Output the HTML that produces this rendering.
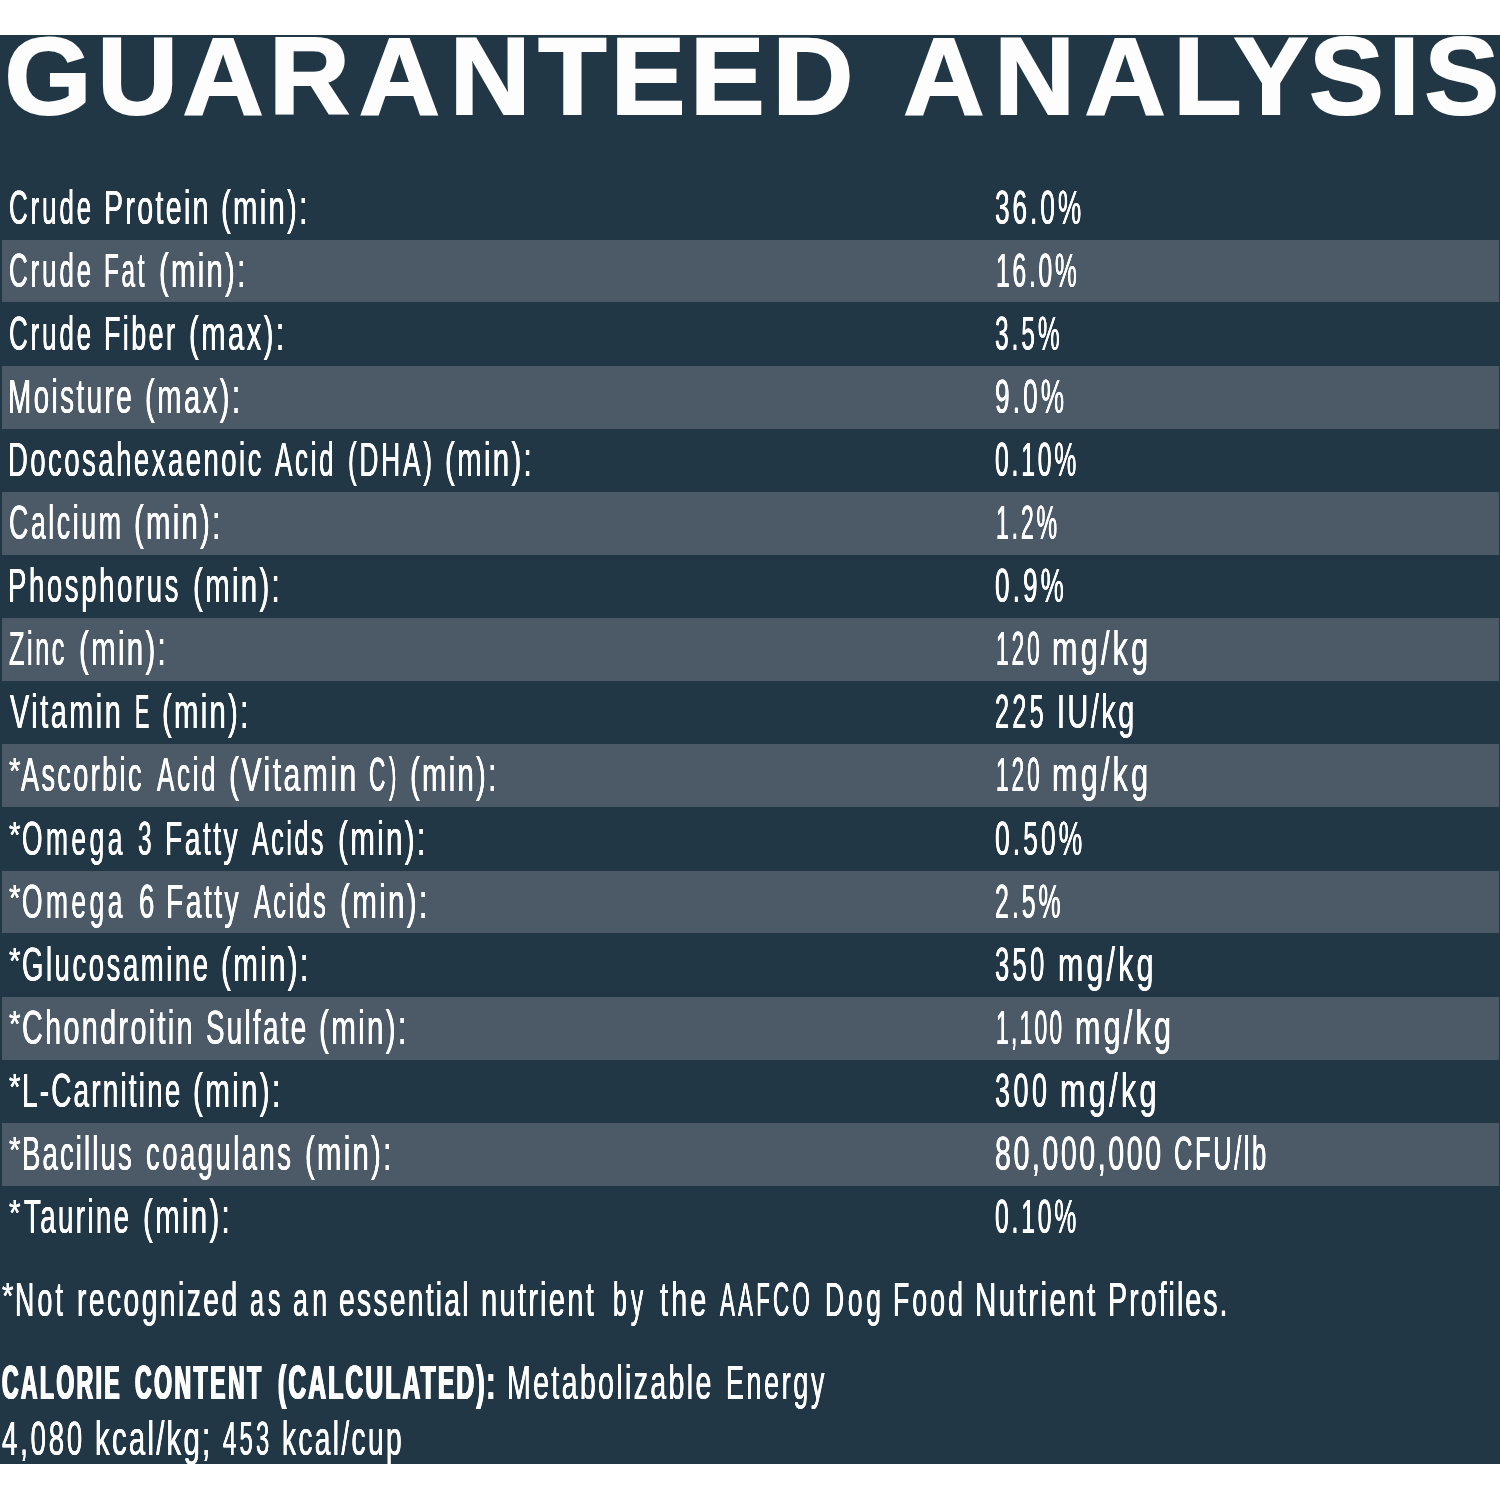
<!DOCTYPE html>
<html lang="en"><head><meta charset="utf-8"><title>Guaranteed Analysis</title>
<style>
html,body{margin:0;padding:0;background:#fff}
body{width:1500px;height:1500px;position:relative;overflow:hidden;font-family:"Liberation Sans",sans-serif;color:#fdfdfd}
.panel{position:absolute;left:0;top:35px;width:1500px;height:1428.7px;background:#223745}
.stripe{position:absolute;left:2px;width:1497.3px;height:62.9px;background:#4c5a68}
.r{position:absolute;left:0;margin:0;font-size:0;line-height:0;white-space:nowrap;font-weight:400}
.r span{display:inline-block;font-size:47.6px;line-height:47.6px;vertical-align:baseline;transform-origin:0 50%;white-space:pre;text-shadow:0.35px 0 0 #fdfdfd,-0.35px 0 0 #fdfdfd}
.r b{font-weight:700}
.r b span{text-shadow:0.65px 0 0 #fdfdfd,-0.65px 0 0 #fdfdfd,1.3px 0 0 #fdfdfd,-1.3px 0 0 #fdfdfd}
svg{position:absolute;left:0;top:0}
</style></head><body>
<div class="panel"></div>
<div class="stripe" style="top:239.6px"></div>
<div class="stripe" style="top:365.8px"></div>
<div class="stripe" style="top:492.0px"></div>
<div class="stripe" style="top:618.2px"></div>
<div class="stripe" style="top:744.4px"></div>
<div class="stripe" style="top:870.6px"></div>
<div class="stripe" style="top:996.8px"></div>
<div class="stripe" style="top:1123.0px"></div>
<svg width="1500" height="160" viewBox="0 0 1500 160" role="img" aria-label="GUARANTEED ANALYSIS"><text transform="scale(1.0289,1)" x="4.4 94.6 177.7 261.5 348.8 437.2 523.2 593.7 670.7 750.7 844.4 878.2 966.3 1054.3 1140.3 1199.0 1272.6 1349.5 1384.4" y="114.4" font-family="Liberation Sans, sans-serif" font-weight="700" font-size="108.7" fill="#fdfdfd" stroke="#fdfdfd" stroke-width="2.0" stroke-linejoin="miter">GUARANTEED ANALYSIS</text></svg>
<div class="r" style="top:183.71px"><span style="margin-left:8.62px;width:80.00px;transform:scaleX(0.5473);letter-spacing:5.12px">Crude</span> <span style="margin-left:15.54px;width:100.80px;transform:scaleX(0.5991);letter-spacing:3.93px">Protein</span> <span style="margin-left:16.41px;width:82.20px;transform:scaleX(0.6150);letter-spacing:3.74px">(min):</span> <span style="margin-left:691.56px;width:84.70px;transform:scaleX(0.5510);letter-spacing:5.38px">36.0%</span></div>
<div class="r" style="top:246.79px"><span style="margin-left:8.62px;width:80.00px;transform:scaleX(0.5473);letter-spacing:5.12px">Crude</span> <span style="margin-left:15.84px;width:38.80px;transform:scaleX(0.5098);letter-spacing:5.33px">Fat</span> <span style="margin-left:16.10px;width:82.20px;transform:scaleX(0.6150);letter-spacing:3.74px">(min):</span> <span style="margin-left:754.10px;width:78.50px;transform:scaleX(0.5175);letter-spacing:5.31px">16.0%</span></div>
<div class="r" style="top:309.87px"><span style="margin-left:8.62px;width:80.00px;transform:scaleX(0.5473);letter-spacing:5.12px">Crude</span> <span style="margin-left:15.66px;width:68.80px;transform:scaleX(0.5651);letter-spacing:4.26px">Fiber</span> <span style="margin-left:15.50px;width:91.00px;transform:scaleX(0.6105);letter-spacing:4.17px">(max):</span> <span style="margin-left:715.60px;width:63.30px;transform:scaleX(0.5150);letter-spacing:5.74px">3.5%</span></div>
<div class="r" style="top:372.95px"><span style="margin-left:8.21px;width:120.80px;transform:scaleX(0.5854);letter-spacing:4.13px">Moisture</span> <span style="margin-left:16.37px;width:91.00px;transform:scaleX(0.6105);letter-spacing:4.17px">(max):</span> <span style="margin-left:758.47px;width:67.30px;transform:scaleX(0.5502);letter-spacing:5.71px">9.0%</span></div>
<div class="r" style="top:436.03px"><span style="margin-left:8.24px;width:250.80px;transform:scaleX(0.5768);letter-spacing:4.35px">Docosahexaenoic</span> <span style="margin-left:16.02px;width:57.20px;transform:scaleX(0.5469);letter-spacing:4.88px">Acid</span> <span style="margin-left:15.29px;width:81.20px;transform:scaleX(0.5501);letter-spacing:5.17px">(DHA)</span> <span style="margin-left:15.82px;width:82.60px;transform:scaleX(0.6180);letter-spacing:3.74px">(min):</span> <span style="margin-left:468.01px;width:79.90px;transform:scaleX(0.5198);letter-spacing:5.38px">0.10%</span></div>
<div class="r" style="top:499.11px"><span style="margin-left:8.59px;width:109.20px;transform:scaleX(0.5625);letter-spacing:4.53px">Calcium</span> <span style="margin-left:16.38px;width:82.20px;transform:scaleX(0.6150);letter-spacing:3.74px">(min):</span> <span style="margin-left:779.39px;width:58.90px;transform:scaleX(0.4873);letter-spacing:5.64px">1.2%</span></div>
<div class="r" style="top:562.19px"><span style="margin-left:8.23px;width:167.60px;transform:scaleX(0.5784);letter-spacing:4.51px">Phosphorus</span> <span style="margin-left:16.73px;width:82.60px;transform:scaleX(0.6180);letter-spacing:3.74px">(min):</span> <span style="margin-left:719.97px;width:67.30px;transform:scaleX(0.5476);letter-spacing:5.74px">0.9%</span></div>
<div class="r" style="top:625.27px"><span style="margin-left:9.19px;width:54.40px;transform:scaleX(0.5319);letter-spacing:4.77px">Zinc</span> <span style="margin-left:14.97px;width:82.60px;transform:scaleX(0.6180);letter-spacing:3.74px">(min):</span> <span style="margin-left:834.63px;width:41.50px;transform:scaleX(0.4778);letter-spacing:6.08px">120</span> <span style="margin-left:15.14px;width:92.50px;transform:scaleX(0.6418);letter-spacing:5.04px">mg/kg</span></div>
<div class="r" style="top:688.35px"><span style="margin-left:9.86px;width:109.20px;transform:scaleX(0.6051);letter-spacing:4.21px">Vitamin</span> <span style="margin-left:15.61px;width:12.00px;transform:scaleX(0.4494)">E</span> <span style="margin-left:15.50px;width:82.20px;transform:scaleX(0.6150);letter-spacing:3.74px">(min):</span> <span style="margin-left:750.52px;width:46.90px;transform:scaleX(0.5311);letter-spacing:6.18px">225</span> <span style="margin-left:14.76px;width:73.30px;transform:scaleX(0.6035);letter-spacing:4.25px">IU/kg</span></div>
<div class="r" style="top:751.43px"><span style="margin-left:8.75px;width:11.00px;transform:scale(0.6215,0.7881);transform-origin:0 7.25px">*</span><span style="margin-left:1.31px;width:120.00px;transform:scaleX(0.5680);letter-spacing:4.23px">Ascorbic</span> <span style="margin-left:16.00px;width:57.20px;transform:scaleX(0.5469);letter-spacing:4.88px">Acid</span> <span style="margin-left:14.27px;width:124.00px;transform:scaleX(0.6331);letter-spacing:3.92px">(Vitamin</span> <span style="margin-left:16.25px;width:25.20px;transform:scaleX(0.4768);letter-spacing:7.40px">C)</span> <span style="margin-left:16.20px;width:82.20px;transform:scaleX(0.6150);letter-spacing:3.74px">(min):</span> <span style="margin-left:503.42px;width:41.50px;transform:scaleX(0.4778);letter-spacing:6.08px">120</span> <span style="margin-left:15.14px;width:92.50px;transform:scaleX(0.6418);letter-spacing:5.04px">mg/kg</span></div>
<div class="r" style="top:814.51px"><span style="margin-left:8.75px;width:11.00px;transform:scale(0.6215,0.7881);transform-origin:0 7.25px">*</span><span style="margin-left:2.60px;width:99.60px;transform:scaleX(0.5537);letter-spacing:6.30px">Omega</span> <span style="margin-left:16.34px;width:12.00px;transform:scaleX(0.5117)">3</span> <span style="margin-left:14.70px;width:70.80px;transform:scaleX(0.5929);letter-spacing:4.18px">Fatty</span> <span style="margin-left:16.47px;width:70.80px;transform:scaleX(0.5285);letter-spacing:4.69px">Acids</span> <span style="margin-left:15.10px;width:83.00px;transform:scaleX(0.6210);letter-spacing:3.74px">(min):</span> <span style="margin-left:573.97px;width:85.70px;transform:scaleX(0.5575);letter-spacing:5.38px">0.50%</span></div>
<div class="r" style="top:877.59px"><span style="margin-left:8.75px;width:11.00px;transform:scale(0.6215,0.7881);transform-origin:0 7.25px">*</span><span style="margin-left:2.60px;width:99.60px;transform:scaleX(0.5537);letter-spacing:6.30px">Omega</span> <span style="margin-left:16.60px;width:13.20px;transform:scaleX(0.5815)">6</span> <span style="margin-left:14.43px;width:70.80px;transform:scaleX(0.5929);letter-spacing:4.18px">Fatty</span> <span style="margin-left:16.87px;width:71.20px;transform:scaleX(0.5315);letter-spacing:4.69px">Acids</span> <span style="margin-left:15.10px;width:83.00px;transform:scaleX(0.6210);letter-spacing:3.74px">(min):</span> <span style="margin-left:571.75px;width:63.90px;transform:scaleX(0.5224);letter-spacing:5.71px">2.5%</span></div>
<div class="r" style="top:940.67px"><span style="margin-left:8.75px;width:11.00px;transform:scale(0.6215,0.7881);transform-origin:0 7.25px">*</span><span style="margin-left:2.15px;width:184.00px;transform:scaleX(0.5771);letter-spacing:4.46px">Glucosamine</span> <span style="margin-left:15.45px;width:83.00px;transform:scaleX(0.6210);letter-spacing:3.74px">(min):</span> <span style="margin-left:690.79px;width:47.70px;transform:scaleX(0.5366);letter-spacing:6.22px">350</span> <span style="margin-left:15.00px;width:91.90px;transform:scaleX(0.6376);letter-spacing:5.04px">mg/kg</span></div>
<div class="r" style="top:1003.75px"><span style="margin-left:8.75px;width:11.00px;transform:scale(0.6215,0.7881);transform-origin:0 7.25px">*</span><span style="margin-left:2.35px;width:167.60px;transform:scaleX(0.6045);letter-spacing:3.88px">Chondroitin</span> <span style="margin-left:16.19px;width:98.00px;transform:scaleX(0.5835);letter-spacing:3.92px">Sulfate</span> <span style="margin-left:15.46px;width:83.00px;transform:scaleX(0.6210);letter-spacing:3.74px">(min):</span> <span style="margin-left:593.43px;width:63.90px;transform:scaleX(0.4802);letter-spacing:4.66px">1,100</span> <span style="margin-left:15.76px;width:92.30px;transform:scaleX(0.6404);letter-spacing:5.04px">mg/kg</span></div>
<div class="r" style="top:1066.83px"><span style="margin-left:8.75px;width:11.00px;transform:scale(0.6215,0.7881);transform-origin:0 7.25px">*</span><span style="margin-left:1.85px;width:155.40px;transform:scaleX(0.5869);letter-spacing:3.71px">L-Carnitine</span> <span style="margin-left:16.35px;width:83.00px;transform:scaleX(0.6210);letter-spacing:3.74px">(min):</span> <span style="margin-left:718.75px;width:50.30px;transform:scaleX(0.5658);letter-spacing:6.22px">300</span> <span style="margin-left:15.02px;width:92.90px;transform:scaleX(0.6446);letter-spacing:5.04px">mg/kg</span></div>
<div class="r" style="top:1129.91px"><span style="margin-left:8.75px;width:11.00px;transform:scale(0.6215,0.7881);transform-origin:0 7.25px">*</span><span style="margin-left:2.28px;width:107.00px;transform:scaleX(0.5780);letter-spacing:3.70px">Bacillus</span> <span style="margin-left:17.02px;width:143.20px;transform:scaleX(0.5756);letter-spacing:4.35px">coagulans</span> <span style="margin-left:16.12px;width:82.20px;transform:scaleX(0.6150);letter-spacing:3.74px">(min):</span> <span style="margin-left:607.34px;width:164.30px;transform:scaleX(0.6008);letter-spacing:4.25px">80,000,000</span> <span style="margin-left:14.94px;width:90.30px;transform:scaleX(0.5376);letter-spacing:4.70px">CFU/lb</span></div>
<div class="r" style="top:1192.99px"><span style="margin-left:8.75px;width:11.00px;transform:scale(0.6215,0.7881);transform-origin:0 7.25px">*</span><span style="margin-left:4.07px;width:103.60px;transform:scaleX(0.5797);letter-spacing:4.17px">Taurine</span> <span style="margin-left:15.14px;width:82.60px;transform:scaleX(0.6180);letter-spacing:3.74px">(min):</span> <span style="margin-left:770.01px;width:79.90px;transform:scaleX(0.5198);letter-spacing:5.38px">0.10%</span></div>
<div class="r" style="top:1275.51px"><span style="margin-left:1.95px;width:11.00px;transform:scale(0.6215,0.7881);transform-origin:0 7.25px">*</span><span style="margin-left:2.54px;width:46.10px;transform:scaleX(0.5608);letter-spacing:5.75px">Not</span> <span style="margin-left:15.33px;width:157.00px;transform:scaleX(0.5936);letter-spacing:4.11px">recognized</span> <span style="margin-left:15.70px;width:29.00px;transform:scaleX(0.5284);letter-spacing:7.68px">as</span> <span style="margin-left:14.15px;width:31.80px;transform:scaleX(0.5616);letter-spacing:7.93px">an</span> <span style="margin-left:14.94px;width:127.00px;transform:scaleX(0.5954);letter-spacing:3.73px">essential</span> <span style="margin-left:15.01px;width:111.00px;transform:scaleX(0.6121);letter-spacing:3.63px">nutrient</span> <span style="margin-left:20.60px;width:29.00px;transform:scaleX(0.5201);letter-spacing:7.81px">by</span> <span style="margin-left:18.14px;width:45.00px;transform:scaleX(0.6052);letter-spacing:5.21px">the</span> <span style="margin-left:15.29px;width:89.00px;transform:scaleX(0.4719);letter-spacing:6.60px">AAFCO</span> <span style="margin-left:15.06px;width:52.60px;transform:scaleX(0.5571);letter-spacing:6.61px">Dog</span> <span style="margin-left:16.19px;width:66.60px;transform:scaleX(0.5591);letter-spacing:5.56px">Food</span> <span style="margin-left:15.18px;width:118.20px;transform:scaleX(0.6229);letter-spacing:3.80px">Nutrient</span> <span style="margin-left:15.07px;width:115.00px;transform:scaleX(0.6014);letter-spacing:3.35px">Profiles.</span></div>
<div class="r" style="top:1358.91px"><b><span style="margin-left:2.16px;width:117.00px;transform:scaleX(0.4837);letter-spacing:4.84px">CALORIE</span> <span style="margin-left:15.80px;width:126.20px;transform:scaleX(0.4826);letter-spacing:5.23px">CONTENT</span> <span style="margin-left:16.85px;width:214.80px;transform:scaleX(0.5177);letter-spacing:4.15px">(CALCULATED):</span></b> <span style="margin-left:14.45px;width:201.40px;transform:scaleX(0.5999);letter-spacing:3.92px">Metabolizable</span> <span style="margin-left:17.13px;width:96.60px;transform:scaleX(0.5625);letter-spacing:4.81px">Energy</span></div>
<div class="r" style="top:1414.91px"><span style="margin-left:2.12px;width:79.00px;transform:scaleX(0.5809);letter-spacing:4.76px">4,080</span> <span style="margin-left:13.59px;width:111.00px;transform:scaleX(0.6181);letter-spacing:3.59px">kcal/kg;</span> <span style="margin-left:17.27px;width:45.00px;transform:scaleX(0.5029);letter-spacing:6.26px">453</span> <span style="margin-left:14.01px;width:117.00px;transform:scaleX(0.5912);letter-spacing:3.96px">kcal/cup</span></div>
</body></html>
